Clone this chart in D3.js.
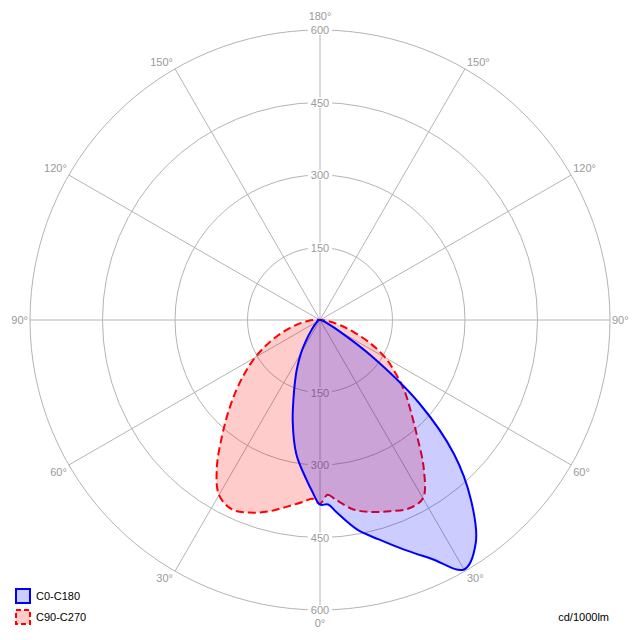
<!DOCTYPE html>
<html><head><meta charset="utf-8">
<script src="https://cdn.jsdelivr.net/npm/d3@7"></script>
<style>body{margin:0;background:#fff}svg{display:block}</style>
</head><body><svg id="c" width="640" height="640"></svg>
<script>
// gamma angles (degrees from nadir)
const gammas = [0, 2.5, 5, 10, 15, 20, 25, 30, 35, 40, 45, 50, 55, 60, 65, 70, 75, 80, 85, 90];
// C0 (right half) and C180 (left half), cd/1000lm
const c0   = [382, 382, 400, 440, 470, 505, 545, 596, 562, 486, 392, 268, 130, 45, 18, 9, 5, 3, 2, 1];
const c180 = [382, 356, 330, 282, 218, 157, 114, 78, 47, 28, 18, 12, 9, 7, 6, 5, 5, 4, 4, 4];
// C90 (right half) and C270 (left half)
const c90  = [380, 362, 373, 398, 411, 421, 431, 426, 374, 312, 265, 228, 190, 156, 116, 76, 46, 24, 11, 5];
const c270 = [380, 370, 377, 392, 410, 424, 432, 418, 372, 316, 268, 226, 189, 155, 122, 92, 65, 43, 25, 12];
const ringTicks = [150, 300, 450, 600];
const spokeAngles = [0, 30, 60, 90, 120, 150, 180];
const seriesNames = ["C0-C180", "C90-C270"];
const unitLabel = "cd/1000lm";

const svg = d3.select("#c");
const cx = 320, cy = 320, R = 290;
const r = d3.scaleLinear().domain([0, 600]).range([0, R]);
const g = svg.append("g").attr("transform", `translate(${cx},${cy})`);
const font = "'Liberation Sans', 'DejaVu Sans', sans-serif";
const grid = "#b4b4b4", lab = "#9a9a9a";

// rings
g.selectAll("circle.ring").data(ringTicks).enter().append("circle")
  .attr("r", d => r(d)).attr("fill", "none").attr("stroke", grid).attr("stroke-width", 1);
// spokes (full diameters)
const rad = Math.PI / 180;
[0, 30, 60, 90, 120, 150].forEach(a => {
  const x = R * Math.sin(a * rad), y = R * Math.cos(a * rad);
  g.append("line").attr("x1", x).attr("y1", y).attr("x2", -x).attr("y2", -y)
    .attr("stroke", grid).attr("stroke-width", 1);
});
// ring labels with white background on vertical axis
ringTicks.forEach(t => {
  [-1, 1].forEach(s => {
    const y = s * r(t);
    const txt = g.append("text").attr("x", 0).attr("y", y).attr("text-anchor", "middle")
      .attr("dominant-baseline", "central").attr("font-family", font).attr("font-size", 11)
      .attr("fill", lab).text(t);
    const bb = txt.node().getBBox();
    g.insert("rect", "text").attr("x", bb.x - 3).attr("y", y - 5).attr("width", bb.width + 6)
      .attr("height", 10).attr("fill", "#fff");
  });
});
// angle labels placed just outside spoke ends
spokeAngles.forEach(a => {
  [-1, 1].forEach(s => {
    if ((a === 0 || a === 180) && s === -1) return;
    const ex = s * R * Math.sin(a * rad), ey = R * Math.cos(a * rad);
    let x = ex, y = ey, anchor = "middle";
    if (a === 0) y = ey + 13;
    else if (a === 180) y = ey - 14;
    else {
      anchor = s < 0 ? "end" : "start";
      x = ex + s * 2;
      y = a === 90 ? ey : ey + (ey < 0 ? -7 : 7);
    }
    g.append("text").attr("x", x).attr("y", y).attr("text-anchor", anchor)
      .attr("dominant-baseline", "central").attr("font-family", font).attr("font-size", 11)
      .attr("fill", lab).text(a + "°");
  });
});

// build closed polygon: right side 0->90, then left side 90->0
function pts(right, left) {
  const p = [];
  gammas.forEach((ga, i) => p.push([Math.PI - ga * rad, r(right[i])]));
  for (let i = gammas.length - 1; i >= 1; i--) p.push([Math.PI + gammas[i] * rad, r(left[i])]);
  return p;
}
const line = d3.lineRadial().angle(d => d[0]).radius(d => d[1]).curve(d3.curveCatmullRomClosed.alpha(0.5));

g.append("path").attr("d", line(pts(c90, c270)))
  .attr("fill", "rgba(255,0,0,0.2)").attr("stroke", "#ff0000").attr("stroke-width", 2)
  .attr("stroke-dasharray", "8,4").attr("stroke-linejoin", "round");
g.append("path").attr("d", line(pts(c0, c180)))
  .attr("fill", "rgba(0,0,255,0.2)").attr("stroke", "#0000ff").attr("stroke-width", 2)
  .attr("stroke-linejoin", "round");

// legend
const leg = svg.append("g");
const styles = [
  {fill: "rgba(0,0,255,0.2)", stroke: "#0000ff", dash: null},
  {fill: "rgba(255,0,0,0.2)", stroke: "#ff0000", dash: "5,3"}
];
seriesNames.forEach((n, i) => {
  const y = 596 + i * 21;
  leg.append("rect").attr("x", 16).attr("y", y - 7).attr("width", 14).attr("height", 14)
    .attr("fill", styles[i].fill).attr("stroke", styles[i].stroke).attr("stroke-width", 2)
    .attr("stroke-dasharray", styles[i].dash);
  leg.append("text").attr("x", 36).attr("y", y).attr("dominant-baseline", "central")
    .attr("font-family", font).attr("font-size", 11).attr("fill", "#000").text(n);
});
svg.append("text").attr("x", 609).attr("y", 617).attr("text-anchor", "end")
  .attr("dominant-baseline", "central").attr("font-family", font).attr("font-size", 11)
  .attr("fill", "#000").text(unitLabel);
</script></body></html>
